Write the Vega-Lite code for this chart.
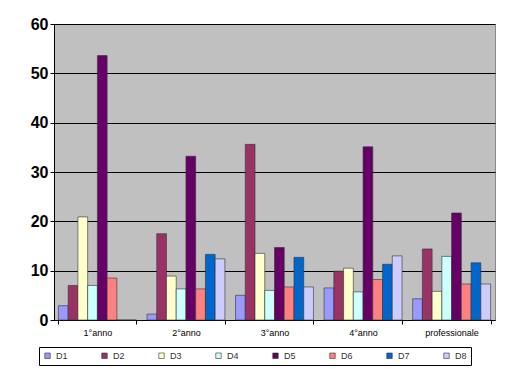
{
  "$schema": "https://vega.github.io/schema/vega-lite/v6.json",
  "width": 441,
  "height": 296,
  "autosize": "none",
  "padding": {"left": 54, "top": 24, "right": 26, "bottom": 49},
  "background": "white",
  "config": {
    "font": "Liberation Sans",
    "view": {"fill": "#C0C0C0", "stroke": "#888888", "strokeWidth": 1}
  },
  "data": {
    "values": [
      {"anno": "1°anno", "serie": "D1", "valore": 2.9},
      {"anno": "1°anno", "serie": "D2", "valore": 7.0},
      {"anno": "1°anno", "serie": "D3", "valore": 20.9},
      {"anno": "1°anno", "serie": "D4", "valore": 7.0},
      {"anno": "1°anno", "serie": "D5", "valore": 53.6},
      {"anno": "1°anno", "serie": "D6", "valore": 8.5},
      {"anno": "1°anno", "serie": "D7", "valore": 0},
      {"anno": "1°anno", "serie": "D8", "valore": 0},
      {"anno": "2°anno", "serie": "D1", "valore": 1.2},
      {"anno": "2°anno", "serie": "D2", "valore": 17.5},
      {"anno": "2°anno", "serie": "D3", "valore": 8.9},
      {"anno": "2°anno", "serie": "D4", "valore": 6.3},
      {"anno": "2°anno", "serie": "D5", "valore": 33.2},
      {"anno": "2°anno", "serie": "D6", "valore": 6.3},
      {"anno": "2°anno", "serie": "D7", "valore": 13.3},
      {"anno": "2°anno", "serie": "D8", "valore": 12.4},
      {"anno": "3°anno", "serie": "D1", "valore": 5.0},
      {"anno": "3°anno", "serie": "D2", "valore": 35.6},
      {"anno": "3°anno", "serie": "D3", "valore": 13.5},
      {"anno": "3°anno", "serie": "D4", "valore": 6.0},
      {"anno": "3°anno", "serie": "D5", "valore": 14.7},
      {"anno": "3°anno", "serie": "D6", "valore": 6.7},
      {"anno": "3°anno", "serie": "D7", "valore": 12.7},
      {"anno": "3°anno", "serie": "D8", "valore": 6.7},
      {"anno": "4°anno", "serie": "D1", "valore": 6.5},
      {"anno": "4°anno", "serie": "D2", "valore": 9.9},
      {"anno": "4°anno", "serie": "D3", "valore": 10.5},
      {"anno": "4°anno", "serie": "D4", "valore": 5.7},
      {"anno": "4°anno", "serie": "D5", "valore": 35.1},
      {"anno": "4°anno", "serie": "D6", "valore": 8.2},
      {"anno": "4°anno", "serie": "D7", "valore": 11.3},
      {"anno": "4°anno", "serie": "D8", "valore": 13.0},
      {"anno": "professionale", "serie": "D1", "valore": 4.3},
      {"anno": "professionale", "serie": "D2", "valore": 14.4},
      {"anno": "professionale", "serie": "D3", "valore": 5.8},
      {"anno": "professionale", "serie": "D4", "valore": 12.9},
      {"anno": "professionale", "serie": "D5", "valore": 21.7},
      {"anno": "professionale", "serie": "D6", "valore": 7.3},
      {"anno": "professionale", "serie": "D7", "valore": 11.6},
      {"anno": "professionale", "serie": "D8", "valore": 7.3}
    ]
  },
  "mark": {"type": "bar", "stroke": "#333333", "strokeWidth": 0.6},
  "encoding": {
    "x": {
      "field": "anno",
      "type": "nominal",
      "sort": null,
      "scale": {"paddingInner": 0.12, "paddingOuter": 0.05},
      "axis": {
        "title": null,
        "labelAngle": 0,
        "labelFontSize": 9,
        "labelColor": "#000000",
        "labelPadding": 4,
        "domainColor": "#000000",
        "tickColor": "#000000",
        "tickBand": "extent",
        "tickSize": 4
      }
    },
    "xOffset": {
      "field": "serie",
      "type": "nominal",
      "sort": null,
      "scale": {"paddingInner": 0, "paddingOuter": 0}
    },
    "y": {
      "field": "valore",
      "type": "quantitative",
      "scale": {"domain": [0, 60], "nice": false},
      "axis": {
        "title": null,
        "values": [0, 10, 20, 30, 40, 50, 60],
        "labelFontSize": 16,
        "labelFontWeight": "bold",
        "labelColor": "#000000",
        "labelPadding": 2,
        "tickSize": 4,
        "tickColor": "#000000",
        "domainColor": "#000000",
        "gridColor": "#000000",
        "gridWidth": 1
      }
    },
    "color": {
      "field": "serie",
      "type": "nominal",
      "sort": null,
      "scale": {
        "domain": ["D1", "D2", "D3", "D4", "D5", "D6", "D7", "D8"],
        "range": ["#9999FF", "#993366", "#FFFFCC", "#CCFFFF", "#660066", "#FF8080", "#0066CC", "#CCCCFF"]
      },
      "legend": {
        "title": null,
        "orient": "none",
        "legendX": -15,
        "legendY": 323,
        "direction": "horizontal",
        "columns": 8,
        "columnPadding": 32,
        "symbolType": "square",
        "symbolSize": 30,
        "symbolStrokeColor": "#333333",
        "symbolStrokeWidth": 0.6,
        "labelFontSize": 9,
        "labelColor": "#333333",
        "strokeColor": "#000000",
        "padding": 4,
        "offset": 0
      }
    }
  }
}
